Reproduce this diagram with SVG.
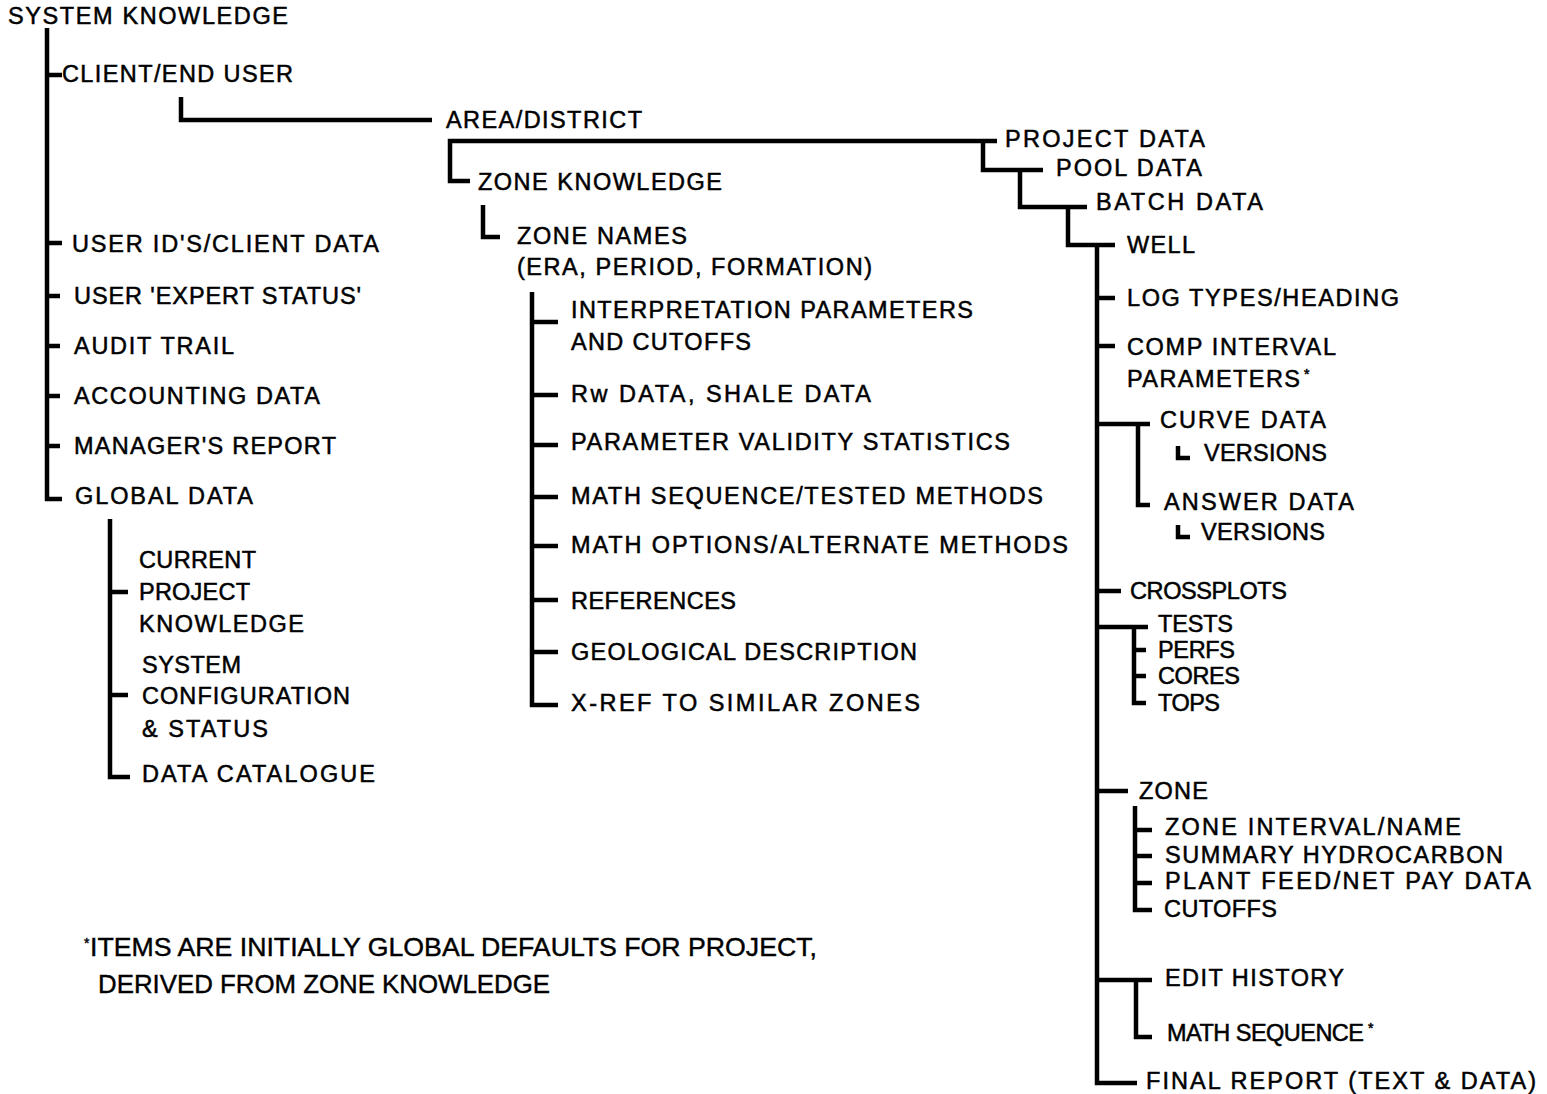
<svg xmlns="http://www.w3.org/2000/svg" width="1547" height="1094" viewBox="0 0 1547 1094">
<style>
.t{font-family:"Liberation Sans",Arial,sans-serif;font-size:23.5px;fill:#000;stroke:#000;stroke-width:0.5}
.f{font-family:"Liberation Sans",Arial,sans-serif;font-size:25px;fill:#000;stroke:#000;stroke-width:0.4}
.ln{stroke:#000;stroke-width:4.5;fill:none;stroke-linecap:butt;stroke-linejoin:miter}
.sup{font-size:14px}
</style>
<rect width="1547" height="1094" fill="#fff"/>
<g id="connectors" class="ln">
<path d="M47 28V499H62"/>
<path d="M47 75H62M47 243H62M47 296H60M47 346H60M47 396H60M47 446H60"/>
<path d="M181 97V120H432"/>
<path d="M997 141H450V181H470"/>
<path d="M483 205V237H500"/>
<path d="M532 292V705H558M532 322H558M532 395H558M532 445H558M532 497H558M532 546H558M532 600H558M532 652H558"/>
<path d="M110 519V777H130M110 592H128M110 695H128"/>
<path d="M983 141V170H1043"/>
<path d="M1020 170V207H1087"/>
<path d="M1068 207V245H1115"/>
<path d="M1097 245V1083H1137"/>
<path d="M1097 298H1115M1097 346H1115M1097 591H1121M1097 791H1128"/>
<path d="M1097 424H1150M1138 424V505H1150"/>
<path d="M1178 446V458H1190"/>
<path d="M1178 525V537H1190"/>
<path d="M1097 627H1148M1134 627V703H1146M1134 650H1146M1134 676H1146"/>
<path d="M1135 806V910H1152M1135 830H1152M1135 856H1152M1135 883H1152"/>
<path d="M1097 980H1152M1136 980V1037H1152"/>
</g>
<g id="n-system-knowledge"><text class="t" x="8" y="24" textLength="280" lengthAdjust="spacing">SYSTEM KNOWLEDGE</text></g>
<g id="n-client"><text class="t" x="62" y="82" textLength="231" lengthAdjust="spacing">CLIENT/END USER</text></g>
<g id="n-area"><text class="t" x="446" y="128" textLength="196" lengthAdjust="spacing">AREA/DISTRICT</text></g>
<g id="n-zone-knowledge"><text class="t" x="478" y="190" textLength="244" lengthAdjust="spacing">ZONE KNOWLEDGE</text></g>
<g id="n-zone-names"><text class="t" x="517" y="244" textLength="170" lengthAdjust="spacing">ZONE NAMES</text><text class="t" x="517" y="275" textLength="355" lengthAdjust="spacing">(ERA, PERIOD, FORMATION)</text></g>
<g id="n-user-ids"><text class="t" x="72" y="252" textLength="307" lengthAdjust="spacing">USER ID'S/CLIENT DATA</text></g>
<g id="n-expert"><text class="t" x="74" y="304" textLength="287" lengthAdjust="spacing">USER 'EXPERT STATUS'</text></g>
<g id="n-audit"><text class="t" x="74" y="354" textLength="160" lengthAdjust="spacing">AUDIT TRAIL</text></g>
<g id="n-accounting"><text class="t" x="74" y="404" textLength="246" lengthAdjust="spacing">ACCOUNTING DATA</text></g>
<g id="n-manager"><text class="t" x="74" y="454" textLength="262" lengthAdjust="spacing">MANAGER'S REPORT</text></g>
<g id="n-global"><text class="t" x="75" y="504" textLength="178" lengthAdjust="spacing">GLOBAL DATA</text></g>
<g id="n-current"><text class="t" x="139" y="568" textLength="117" lengthAdjust="spacing">CURRENT</text><text class="t" x="139" y="600" textLength="111" lengthAdjust="spacing">PROJECT</text><text class="t" x="139" y="632" textLength="165" lengthAdjust="spacing">KNOWLEDGE</text></g>
<g id="n-sysconfig"><text class="t" x="142" y="673" textLength="99" lengthAdjust="spacing">SYSTEM</text><text class="t" x="142" y="704" textLength="208" lengthAdjust="spacing">CONFIGURATION</text><text class="t" x="142" y="737" textLength="126" lengthAdjust="spacing">&amp; STATUS</text></g>
<g id="n-catalogue"><text class="t" x="142" y="782" textLength="233" lengthAdjust="spacing">DATA CATALOGUE</text></g>
<g id="n-interp"><text class="t" x="571" y="318" textLength="402" lengthAdjust="spacing">INTERPRETATION PARAMETERS</text><text class="t" x="571" y="350" textLength="180" lengthAdjust="spacing">AND CUTOFFS</text></g>
<g id="n-rw"><text class="t" x="571" y="402" textLength="300" lengthAdjust="spacing">Rw DATA, SHALE DATA</text></g>
<g id="n-validity"><text class="t" x="571" y="450" textLength="439" lengthAdjust="spacing">PARAMETER VALIDITY STATISTICS</text></g>
<g id="n-mathseq"><text class="t" x="571" y="504" textLength="472" lengthAdjust="spacing">MATH SEQUENCE/TESTED METHODS</text></g>
<g id="n-mathopt"><text class="t" x="571" y="553" textLength="497" lengthAdjust="spacing">MATH OPTIONS/ALTERNATE METHODS</text></g>
<g id="n-refs"><text class="t" x="571" y="609" textLength="165" lengthAdjust="spacing">REFERENCES</text></g>
<g id="n-geo"><text class="t" x="571" y="660" textLength="346" lengthAdjust="spacing">GEOLOGICAL  DESCRIPTION</text></g>
<g id="n-xref"><text class="t" x="571" y="711" textLength="349" lengthAdjust="spacing">X-REF  TO  SIMILAR  ZONES</text></g>
<g id="n-project"><text class="t" x="1005" y="147" textLength="200" lengthAdjust="spacing">PROJECT  DATA</text></g>
<g id="n-pool"><text class="t" x="1056" y="176" textLength="146" lengthAdjust="spacing">POOL DATA</text></g>
<g id="n-batch"><text class="t" x="1096" y="210" textLength="167" lengthAdjust="spacing">BATCH DATA</text></g>
<g id="n-well"><text class="t" x="1127" y="253" textLength="68" lengthAdjust="spacing">WELL</text></g>
<g id="n-logtypes"><text class="t" x="1127" y="306" textLength="272" lengthAdjust="spacing">LOG TYPES/HEADING</text></g>
<g id="n-comp"><text class="t" x="1127" y="355" textLength="209" lengthAdjust="spacing">COMP INTERVAL</text><text class="t" x="1127" y="387" textLength="173" lengthAdjust="spacing">PARAMETERS</text><text class="t sup" x="1304" y="379">*</text></g>
<g id="n-curve"><text class="t" x="1160" y="428" textLength="166" lengthAdjust="spacing">CURVE DATA</text></g>
<g id="n-curve-versions"><text class="t" x="1204" y="461" textLength="123" lengthAdjust="spacing">VERSIONS</text></g>
<g id="n-answer"><text class="t" x="1164" y="510" textLength="190" lengthAdjust="spacing">ANSWER DATA</text></g>
<g id="n-answer-versions"><text class="t" x="1201" y="540" textLength="124" lengthAdjust="spacing">VERSIONS</text></g>
<g id="n-crossplots"><text class="t" x="1130" y="599" textLength="157" lengthAdjust="spacing">CROSSPLOTS</text></g>
<g id="n-tests"><text class="t" x="1158" y="632" textLength="75" lengthAdjust="spacing">TESTS</text></g>
<g id="n-perfs"><text class="t" x="1158" y="658" textLength="77" lengthAdjust="spacing">PERFS</text></g>
<g id="n-cores"><text class="t" x="1158" y="684" textLength="82" lengthAdjust="spacing">CORES</text></g>
<g id="n-tops"><text class="t" x="1158" y="711" textLength="62" lengthAdjust="spacing">TOPS</text></g>
<g id="n-zone"><text class="t" x="1139" y="799" textLength="69" lengthAdjust="spacing">ZONE</text></g>
<g id="n-zone-interval"><text class="t" x="1165" y="835" textLength="296" lengthAdjust="spacing">ZONE INTERVAL/NAME</text></g>
<g id="n-summary"><text class="t" x="1165" y="863" textLength="338" lengthAdjust="spacing">SUMMARY HYDROCARBON</text></g>
<g id="n-plant"><text class="t" x="1165" y="889" textLength="366" lengthAdjust="spacing">PLANT FEED/NET PAY DATA</text></g>
<g id="n-cutoffs"><text class="t" x="1164" y="917" textLength="113" lengthAdjust="spacing">CUTOFFS</text></g>
<g id="n-edit"><text class="t" x="1165" y="986" textLength="179" lengthAdjust="spacing">EDIT HISTORY</text></g>
<g id="n-mathseq2"><text class="t" x="1167" y="1041" textLength="197" lengthAdjust="spacing">MATH SEQUENCE</text><text class="t sup" x="1368" y="1033">*</text></g>
<g id="n-final"><text class="t" x="1146" y="1089" textLength="390" lengthAdjust="spacing">FINAL REPORT (TEXT &amp; DATA)</text></g>
<g id="footnote"><text class="f sup" x="84" y="948">*</text><text class="f" x="90" y="956" textLength="727" lengthAdjust="spacingAndGlyphs">ITEMS ARE INITIALLY GLOBAL DEFAULTS FOR PROJECT,</text><text class="f" x="98" y="993" textLength="452" lengthAdjust="spacingAndGlyphs">DERIVED FROM ZONE KNOWLEDGE</text></g>
</svg>
